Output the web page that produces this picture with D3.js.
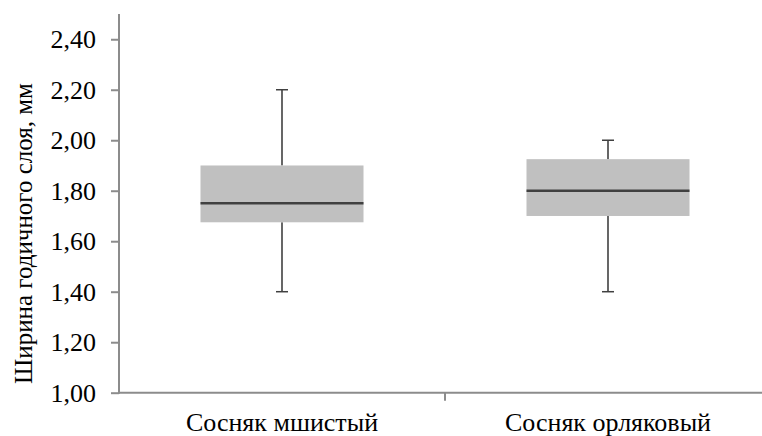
<!DOCTYPE html>
<html><head><meta charset="utf-8">
<script src="https://cdn.jsdelivr.net/npm/d3@7"></script>
<style>body{margin:0;background:#fff}svg{display:block}text{font-family:"Liberation Serif","Times New Roman",serif}</style>
</head><body>
<script>
const categories = ["Сосняк мшистый", "Сосняк орляковый"];
const whiskerLow = [1.40, 1.40];
const q1 = [1.675, 1.70];
const median = [1.75, 1.80];
const q3 = [1.90, 1.925];
const whiskerHigh = [2.20, 2.00];
const yTicks = [1.0, 1.2, 1.4, 1.6, 1.8, 2.0, 2.2, 2.4];
const yTitle = "Ширина годичного слоя, мм";

(function () {
const W = 762, H = 436;
const mLeft = 119, mRight = 771, mTop = 14, mBottom = 392.7;
const svg = d3.select("body").append("svg").attr("width", W).attr("height", H);

const x = d3.scaleBand().domain(categories).range([mLeft, mRight]).paddingInner(0).paddingOuter(0);
const y = d3.scaleLinear().domain([1.0, 2.5]).range([mBottom, mTop]);
const axisColor = "#8c8c8c";

// Y axis
const yAxis = d3.axisLeft(y).tickValues(yTicks).tickSize(8).tickPadding(15)
  .tickFormat(d => d3.format(".2f")(d).replace(".", ","));
const gy = svg.append("g").attr("transform", `translate(${mLeft},0)`).call(yAxis);
gy.attr("font-family", null).attr("font-size", null);
gy.select(".domain").remove();
gy.append("line").attr("x1", 0).attr("x2", 0).attr("y1", mTop).attr("y2", mBottom + 1)
  .attr("stroke", axisColor).attr("stroke-width", 2);
gy.selectAll(".tick line").attr("stroke", axisColor).attr("stroke-width", 2);
gy.selectAll(".tick text").style("font-size", "26px").attr("fill", "#000");

// X axis
const gx = svg.append("g").attr("transform", `translate(0,${mBottom})`);
gx.append("line").attr("x1", mLeft - 1).attr("x2", mRight).attr("y1", 0).attr("y2", 0)
  .attr("stroke", axisColor).attr("stroke-width", 2);
gx.append("line").attr("x1", x(categories[1])).attr("x2", x(categories[1]))
  .attr("y1", 0).attr("y2", 8).attr("stroke", axisColor).attr("stroke-width", 2);
gx.selectAll("text.cat").data(categories).enter().append("text")
  .attr("class", "cat")
  .attr("x", d => x(d) + x.bandwidth() / 2).attr("y", 38.5)
  .attr("text-anchor", "middle").style("font-size", "26px")
  .attr("fill", "#000").text(d => d);

// Y title
svg.append("text").attr("transform", `translate(32,233.5) rotate(-90)`)
  .attr("text-anchor", "middle").style("font-size", "25px")
  .attr("fill", "#000").text(yTitle);

// Boxes
const boxW = x.bandwidth() * 0.5;
const capW = 12;
const g = svg.append("g");
categories.forEach((c, i) => {
  const cx = x(c) + x.bandwidth() / 2;
  g.append("line").attr("x1", cx).attr("x2", cx).attr("y1", y(whiskerHigh[i])).attr("y2", y(q3[i]))
    .attr("stroke", "#000").attr("stroke-width", 1.2);
  g.append("line").attr("x1", cx).attr("x2", cx).attr("y1", y(q1[i])).attr("y2", y(whiskerLow[i]))
    .attr("stroke", "#000").attr("stroke-width", 1.2);
  g.append("line").attr("x1", cx - capW / 2).attr("x2", cx + capW / 2)
    .attr("y1", y(whiskerHigh[i])).attr("y2", y(whiskerHigh[i])).attr("stroke", "#404040").attr("stroke-width", 1.5);
  g.append("line").attr("x1", cx - capW / 2).attr("x2", cx + capW / 2)
    .attr("y1", y(whiskerLow[i])).attr("y2", y(whiskerLow[i])).attr("stroke", "#404040").attr("stroke-width", 1.5);
  g.append("rect").attr("x", cx - boxW / 2).attr("width", boxW)
    .attr("y", y(q3[i])).attr("height", y(q1[i]) - y(q3[i]))
    .attr("fill", "#c0c0c0");
  g.append("line").attr("x1", cx - boxW / 2).attr("x2", cx + boxW / 2)
    .attr("y1", y(median[i])).attr("y2", y(median[i]))
    .attr("stroke", "#404040").attr("stroke-width", 2.5);
});
})();
</script>
</body></html>
